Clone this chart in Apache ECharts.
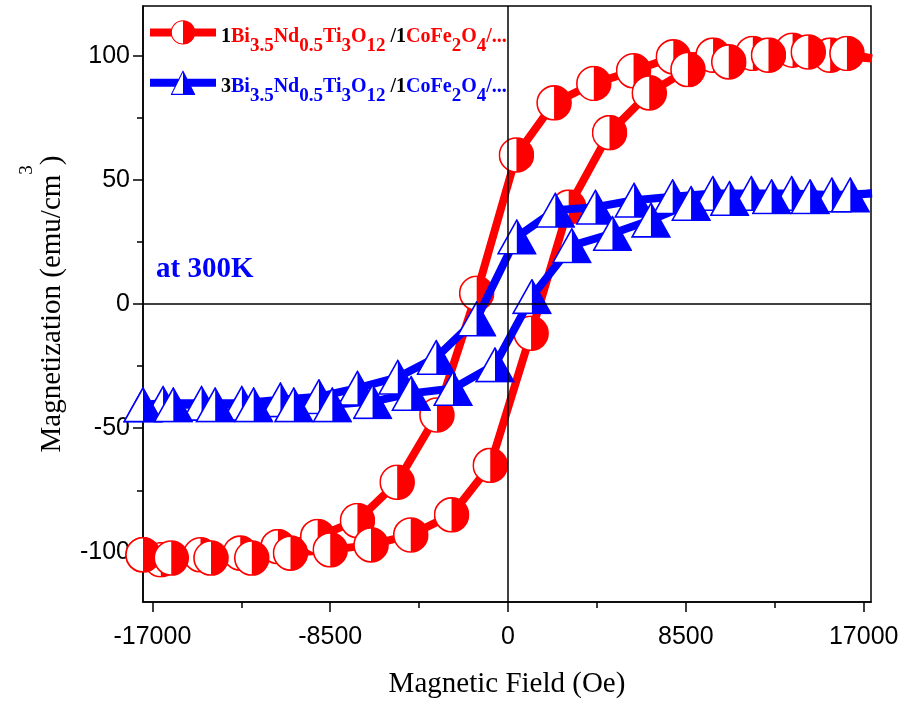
<!DOCTYPE html>
<html lang="en">
<head>
<meta charset="UTF-8">
<title>M-H loops</title>
<script src="https://cdn.jsdelivr.net/npm/echarts@6.0.0/dist/echarts.min.js"></script>
<style>
    body, html { margin: 0; width: 100%; height: 100%; background: #fff; }
    #main { width: 898px; height: 706px; }
</style>
</head>
<body>
<div id="main"></div>
<script>
    // field in Oe, magnetization in emu/cm3
    // red sample: descending branch (+H -> -H) then ascending branch
    var redDownH = [17400, 15400, 13600, 11700, 9800, 7900, 6000, 4100, 2200, 400, -1500, -3400, -5300, -7200, -9100, -11000, -12800, -14700, -16600, -17450];
    var redDownM = [98.9, 100.2, 102.2, 100.9, 100.2, 99.5, 93.9, 88.8, 81, 60, 4.3, -44.7, -71.8, -87.2, -93.6, -97.7, -100.3, -101, -103, -101];
    var redUpH = [-17450, -16100, -14200, -12250, -10400, -8500, -6550, -4650, -2700, -850, 1100, 2900, 4850, 6750, 8600, 10550, 12450, 14350, 16200, 17400];
    var redUpM = [-101, -102.3, -102.3, -102.3, -100.3, -99, -97, -93, -84.9, -65, -11.8, 39, 69, 85, 94.4, 97.5, 100.2, 101.5, 100.9, 98.9];
    // blue sample
    var blueDownH = [17400, 15480, 13560, 11630, 9790, 7870, 6025, 4180, 2260, 418, -1505, -3430, -5270, -7197, -9040, -10880, -12725, -14650, -16490, -17450];
    var blueDownM = [44.5, 43.9, 44.5, 44.5, 44.5, 43.2, 41.8, 39, 37.8, 27, -6, -21.5, -29.5, -33.9, -37.3, -38.6, -40, -40, -40, -40.6];
    var blueUpH = [-17450, -16000, -14000, -12160, -10240, -8400, -6476, -4630, -2630, -625, 1140, 3050, 4990, 6830, 8750, 10590, 12600, 14440, 16360, 17400];
    var blueUpM = [-40.6, -40.6, -40.6, -40.6, -40.6, -40.6, -39.3, -36, -34, -24.5, 3, 23.5, 28.4, 33.8, 40.5, 42.5, 43.2, 43.2, 43.9, 44.5];

    var xMajor = [-17000, -8500, 0, 8500, 17000];
    var xMinor = [-12750, -4250, 4250, 12750];
    var yMajor = [-100, -50, 0, 50, 100];
    var yMinor = [-75, -25, 25, 75];

    var names = ['1Bi3.5Nd0.5Ti3O12/1CoFe2O4', '3Bi3.5Nd0.5Ti3O12/1CoFe2O4'];

    var RED = '#ff0000', BLUE = '#0000ff';
    var SERIF = '"Liberation Serif", "Times New Roman", serif';
    var SANS = '"Liberation Sans", Arial, sans-serif';

    function pairs(h, m) {
        var out = [];
        for (var i = 0; i < h.length; i++) out.push([h[i], m[i]]);
        return out;
    }

    // half filled markers (left half white, right half coloured)
    function svgImg(svg) {
        return 'image://data:image/svg+xml;charset=utf-8,' + encodeURIComponent(svg);
    }
    var halfCircle = svgImg(
        "<svg xmlns='http://www.w3.org/2000/svg' width='36' height='36' viewBox='0 0 36 36'>" +
        "<circle cx='18' cy='18' r='17' fill='#fff' stroke='" + RED + "' stroke-width='1.6'/>" +
        "<path d='M18 1 A17 17 0 0 1 18 35 Z' fill='" + RED + "'/></svg>");
    var halfTriangle = svgImg(
        "<svg xmlns='http://www.w3.org/2000/svg' width='40' height='36' viewBox='0 0 40 36'>" +
        "<polygon points='20,1.2 38.8,34.8 1.2,34.8' fill='#fff' stroke='" + BLUE + "' stroke-width='1.6'/>" +
        "<polygon points='20,1.2 38.8,34.8 20,34.8' fill='" + BLUE + "'/></svg>");

    function tok(color, sub) {
        return {
            fontFamily: SERIF, fontWeight: 'bold', color: color,
            fontSize: sub ? 19 : 20, lineHeight: 20, verticalAlign: 'top',
            padding: [sub ? 14 : 4, 0, 0, 0]
        };
    }
    function legendText(lead, c) {
        return '{k|' + lead + '}{' + c + '|Bi}{' + c + 's|3.5}{' + c + '|Nd}{' + c + 's|0.5}{' + c + '|Ti}{' + c + 's|3}{' + c + '|O}{' + c + 's|12}' +
            '{k| /1}{' + c + '|CoFe}{' + c + 's|2}{' + c + '|O}{' + c + 's|4}{' + c + '|/...}';
    }
    function plain(v) { return String(v); }

    var axisTextColor = '#000';
    var option = {
        animation: false,
        backgroundColor: '#fff',
        title: {
            text: 'at 300K', left: 156, top: 255, padding: 0,
            textStyle: { fontFamily: SERIF, fontWeight: 'bold', fontSize: 29, color: BLUE }
        },
        legend: {
            data: names, orient: 'vertical', left: 146, top: 20, padding: 0,
            itemWidth: 66, itemHeight: 31, itemGap: 15,
            lineStyle: { width: 8 },
            formatter: function (name) {
                return name === names[0] ? legendText('1', 'r') : legendText('3', 'b');
            },
            textStyle: {
                rich: {
                    k: tok('#000', false),
                    r: tok(RED, false), rs: tok(RED, true),
                    b: tok(BLUE, false), bs: tok(BLUE, true)
                }
            }
        },
        grid: {
            left: 143, right: 27, top: 6, bottom: 104,
            show: true, borderColor: '#000', borderWidth: 1.5,
            outerBoundsMode: 'none'
        },
        xAxis: [{
            type: 'value', min: -17450, max: 17350, position: 'bottom',
            name: 'Magnetic Field (Oe)', nameLocation: 'middle', nameGap: 68,
            nameTextStyle: { fontFamily: SERIF, fontSize: 29, color: '#000' },
            axisLine: { onZero: false, lineStyle: { color: '#000', width: 1.5 } },
            axisTick: { inside: false, length: 10, customValues: xMajor, lineStyle: { color: '#000', width: 1.5 } },
            axisLabel: { customValues: xMajor, formatter: plain, margin: 23, fontFamily: SANS, fontSize: 25, color: axisTextColor },
            splitLine: { show: false }
        }, {
            type: 'value', min: -17450, max: 17350, position: 'bottom',
            axisLine: { show: false, onZero: false },
            axisTick: { length: 6, customValues: xMinor, lineStyle: { color: '#000', width: 1.5 } },
            axisLabel: { show: false },
            splitLine: { show: false }
        }],
        yAxis: [{
            type: 'value', min: -120, max: 120, position: 'left',
            name: '{m|Magnetization (emu/cm}{s|3}{m|)}', nameLocation: 'middle', nameGap: 96,
            nameTextStyle: {
                rich: {
                    m: { fontFamily: SERIF, fontSize: 29, color: '#000', lineHeight: 29, verticalAlign: 'top', padding: [20, 0, 0, 0] },
                    s: { fontFamily: SERIF, fontSize: 19, color: '#000', lineHeight: 19, verticalAlign: 'top' }
                }
            },
            axisLine: { onZero: false, lineStyle: { color: '#000', width: 1.5 } },
            axisTick: { length: 10, customValues: yMajor, lineStyle: { color: '#000', width: 1.5 } },
            axisLabel: { customValues: yMajor, formatter: plain, margin: 13, fontFamily: SANS, fontSize: 25, color: axisTextColor },
            splitLine: { show: false }
        }, {
            type: 'value', min: -120, max: 120, position: 'left',
            axisLine: { show: false, onZero: false },
            axisTick: { length: 6, customValues: yMinor, lineStyle: { color: '#000', width: 1.5 } },
            axisLabel: { show: false },
            splitLine: { show: false }
        }],
        series: [
            {
                // zero lines through the origin
                name: 'zero', type: 'line', data: [[0, 0]], symbol: 'none', z: 1,
                lineStyle: { width: 0 }, silent: true,
                markLine: {
                    silent: true, symbol: ['none', 'none'], label: { show: false },
                    lineStyle: { color: '#000', width: 1.5, type: 'solid' },
                    emphasis: { disabled: true },
                    data: [{ xAxis: 0 }, { yAxis: 0 }]
                }
            },
            {
                name: names[0], type: 'line', z: 2,
                data: pairs(redDownH, redDownM).concat(pairs(redUpH, redUpM)),
                symbol: halfCircle, symbolSize: 36,
                lineStyle: { color: RED, width: 8 },
                itemStyle: { color: RED },
                emphasis: { disabled: true }
            },
            {
                name: names[1], type: 'line', z: 3,
                data: pairs(blueDownH, blueDownM).concat(pairs(blueUpH, blueUpM)),
                symbol: halfTriangle, symbolSize: [40, 36],
                lineStyle: { color: BLUE, width: 8 },
                itemStyle: { color: BLUE },
                emphasis: { disabled: true }
            }
        ]
    };

    var chart = echarts.init(document.getElementById('main'));
    chart.setOption(option);
</script>
</body>
</html>
